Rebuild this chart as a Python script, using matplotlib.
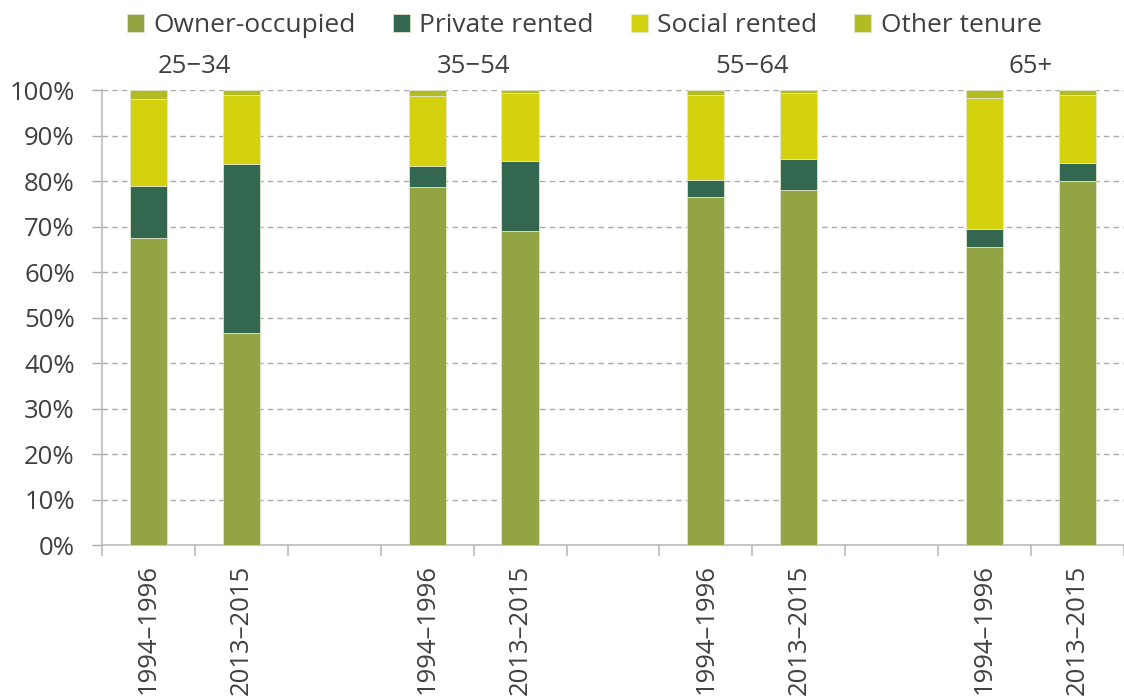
import numpy as np
import matplotlib
matplotlib.use('Agg')
import matplotlib.pyplot as plt
from matplotlib.ticker import FuncFormatter, FixedLocator

plt.rcParams['font.family'] = ['Open Sans', 'DejaVu Sans']

# data (cumulative tops, converted to shares)
age_groups = ['25\u221234', '35\u221254', '55\u221264', '65+']
periods = ['1994\u20131996', '2013\u20132015']
tenures = ['Owner-occupied', 'Private rented', 'Social rented', 'Other tenure']

owner = [67.5, 46.6, 78.7, 69.0, 76.5, 78.0, 65.6, 80.0]
private = [11.4, 37.1, 4.7, 15.4, 3.7, 6.8, 3.9, 3.9]
social = [19.2, 15.3, 15.3, 14.9, 18.8, 14.5, 28.8, 14.9]
other = [1.9, 1.0, 1.3, 0.7, 1.0, 0.7, 1.7, 1.2]

colours = ['#93a445', '#336750', '#d4d10e', '#b2bc22']
text_col = '#404040'
fs = 18.5

# bar slots: two per age group, an empty slot between groups
xpos = []
for g in range(len(age_groups)):
    xpos += [3 * g, 3 * g + 1]
xpos = np.array(xpos)

fig = plt.figure(figsize=(11.24, 7), dpi=100)
ax = fig.add_axes([0.0907, 0.2214, 0.9093, 0.65])

bottom = np.zeros(len(xpos))
for vals, col, lab in zip([owner, private, social, other], colours, tenures):
    ax.bar(xpos, vals, width=0.4, bottom=bottom, color=col, label=lab,
           edgecolor='#dfe6c8', linewidth=0.6, zorder=3)
    bottom += np.array(vals)

ax.set_xlim(-0.5, 10.5)
ax.set_ylim(0, 100)
ax.set_yticks(np.arange(0, 101, 10))
ax.yaxis.set_major_formatter(FuncFormatter(lambda v, p: f'{v:.0f}%'))
ax.grid(axis='y', color='#aaaaaa', linestyle=(0, (4, 3)), linewidth=1, zorder=0)
ax.tick_params(axis='y', length=7.5, color='#aaaaaa', width=1,
               labelsize=fs, labelcolor=text_col, pad=12)

ax.set_xticks(xpos)
ax.set_xticklabels(periods * len(age_groups), rotation=90, fontsize=fs, color=text_col)
ax.tick_params(axis='x', which='major', length=0, pad=14)
ax.xaxis.set_minor_locator(FixedLocator(np.arange(-0.5, 11, 1)))
ax.tick_params(axis='x', which='minor', length=8, color='#bbbbbb', width=1.2)

for s in ['top', 'right']:
    ax.spines[s].set_visible(False)
for s in ['left', 'bottom']:
    ax.spines[s].set_color('#bbbbbb')
    ax.spines[s].set_linewidth(1.2)

for g, name in enumerate(age_groups):
    ax.text(3 * g + 0.5, 102.5, name, ha='center', va='bottom', fontsize=fs,
            color=text_col, clip_on=False)

fig.legend(loc='upper center', bbox_to_anchor=(0.52, 1.015), ncol=4, frameon=False,
           fontsize=19, handlelength=0.65, handleheight=0.65, handletextpad=0.35,
           columnspacing=1.4, labelcolor=text_col)

fig.savefig('out.png', dpi=100)
